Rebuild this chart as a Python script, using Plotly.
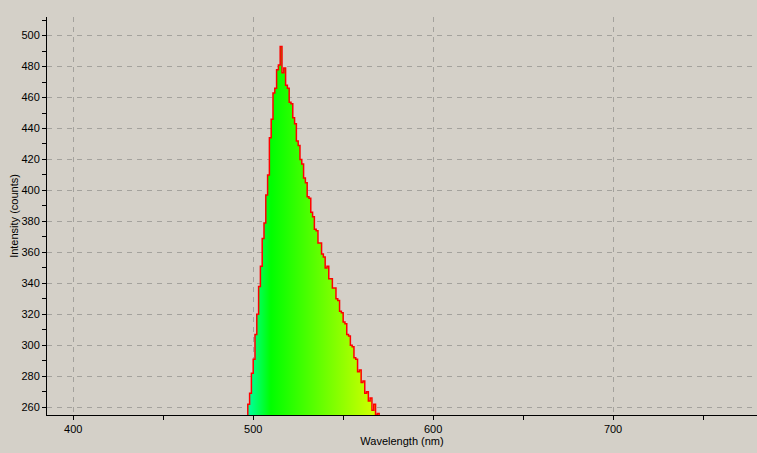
import plotly.graph_objects as go

# spectrum (nm, counts)
wavelength = [
    495, 496, 497, 498, 499, 500, 501, 502, 503, 504, 505, 506, 507, 508, 509,
    510, 511, 512, 513, 514, 515, 516, 517, 518, 519, 520, 521, 522, 523, 524,
    525, 526, 527, 528, 529, 530, 531, 532, 533, 534, 535, 536, 537, 538, 539,
    540, 541, 542, 543, 544, 545, 546, 547, 548, 549, 550, 551, 552, 553, 554,
    555, 556, 557, 558, 559, 560, 561, 562, 563, 564, 565, 566, 567, 568, 569,
    570,
]
intensity = [
    240, 252, 262, 269, 282, 291, 307, 320, 338, 351, 369, 379, 397, 410, 434,
    446, 463, 466, 478, 481, 493, 476, 479, 468, 466, 457, 456, 447, 443, 432,
    429, 420, 417, 408, 405, 396, 395, 386, 383, 375, 374, 366, 366, 359, 357,
    350, 351, 343, 343, 337, 337, 330, 329, 322, 321, 315, 314, 307, 306, 300,
    299, 292, 291, 283, 284, 276, 277, 269, 270, 264, 266, 258, 262, 255, 256,
    245,
]

x_ticks = [400, 500, 600, 700]
y_ticks = [260, 280, 300, 320, 340, 360, 380, 400, 420, 440, 460, 480, 500]

_BG = "#d4d0c8"
_GRID = "#a4a29d"
_FONT = dict(family="Liberation Sans", size=11, color="#000000")

fig = go.Figure()

fig.add_trace(go.Scatter(
    x=wavelength, y=intensity,
    mode="lines", line=dict(width=0, shape="hv"),
    fill="tozeroy",
    fillgradient=dict(
        type="horizontal", start=490, stop=580,
        colorscale=[[0, "#00ffff"], [0.22, "#00ff00"], [1, "#ffff00"]],
    ),
    hoverinfo="skip", showlegend=False,
))
fig.add_trace(go.Scatter(
    x=wavelength, y=intensity,
    mode="lines", line=dict(color="#ff0000", width=1.5, shape="hv"),
    showlegend=False,
))

fig.update_xaxes(
    range=[385.4, 780], tickvals=x_ticks, automargin=False,
    showgrid=True, gridcolor=_GRID, griddash="5px,5px", gridwidth=1,
    showline=True, linecolor="#000000", linewidth=1,
    ticks="outside", ticklen=4, tickcolor="#000000",
    minor=dict(dtick=50, ticks="outside", ticklen=4, tickcolor="#000000", showgrid=False),
    zeroline=False,
    title=dict(text="Wavelength (nm)", font=_FONT, standoff=2),
    tickfont=_FONT,
)
fig.update_yaxes(
    range=[255, 512], tickvals=y_ticks, automargin=False,
    showgrid=True, gridcolor=_GRID, griddash="5px,5px", gridwidth=1,
    showline=True, linecolor="#000000", linewidth=1,
    ticks="outside", ticklen=4, tickcolor="#000000",
    minor=dict(dtick=10, ticks="outside", ticklen=4, tickcolor="#000000", showgrid=False),
    zeroline=False,
    title=dict(text="Intensity (counts)", font=_FONT, standoff=0),
    tickfont=_FONT,
)

fig.update_layout(
    width=757, height=453,
    paper_bgcolor=_BG, plot_bgcolor=_BG,
    margin=dict(l=47, r=0, t=17, b=38),
    font=_FONT,
)

# drop the browser's default 8px body margin so the figure fills the window
fig.write_html("out.html", config={"displayModeBar": False},
               post_script="document.body.style.margin='0';")
